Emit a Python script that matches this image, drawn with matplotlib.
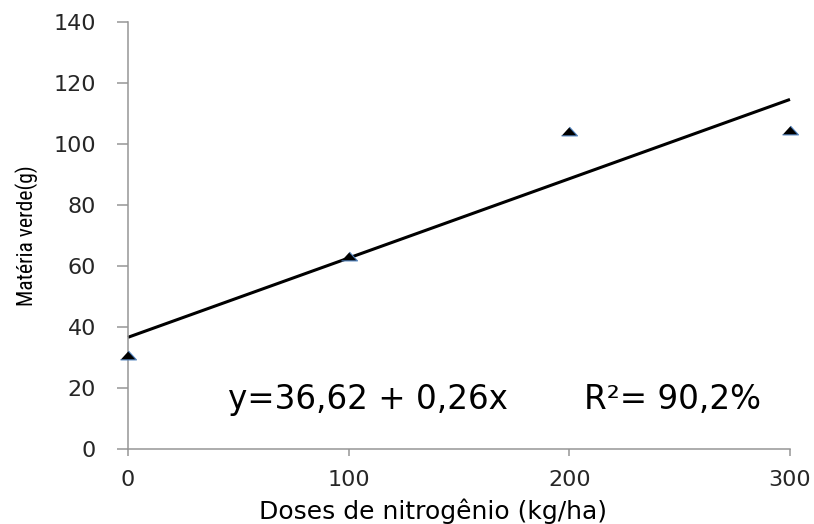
import matplotlib.pyplot as plt
import numpy as np

# -------- data --------
doses = [0, 100, 200, 300]            # kg/ha
materia_verde = [30.8, 63.3, 104.3, 104.6]  # g
intercept, slope = 36.62, 0.26        # fitted line y = a + b x
x_ticks = [0, 100, 200, 300]
y_ticks = [0, 20, 40, 60, 80, 100, 120, 140]

eq_text = "y=36,62 + 0,26x"
r2_text = "R²= 90,2%"

grey = "#969696"
dark = "#262626"
narrow = ["Roboto Condensed", "Liberation Sans Narrow", "Sofia Sans Condensed",
          "Liberation Sans"]

fig = plt.figure(figsize=(8.14, 5.24), dpi=100)
ax = fig.add_axes([0.1572, 0.1431, 0.8133, 0.8149])

# -------- fitted line --------
x_line = np.array([doses[0], doses[-1]])
ax.plot(x_line, intercept + slope * x_line, color="black", lw=2.2,
        solid_capstyle="butt", clip_on=False, zorder=2)

# -------- observed points (flat triangles) --------
tri = [(-1, -0.55), (1, -0.55), (0, 0.55)]
ax.plot(doses, materia_verde, ls="none", marker=tri, ms=11.5,
        mfc="black", mec="#4F81BD", mew=0.8, clip_on=False, zorder=3)

# -------- axes styling --------
ax.set_xlim(0, 300)
ax.set_ylim(0, 140)
ax.set_xticks(x_ticks)
ax.set_yticks(y_ticks)

for side in ("top", "right"):
    ax.spines[side].set_visible(False)
for side in ("left", "bottom"):
    ax.spines[side].set_color(grey)
    ax.spines[side].set_linewidth(1.1)

ax.tick_params(axis="y", direction="out", length=8, width=1.1, color=grey,
               pad=15, labelsize=16, labelcolor=dark)
ax.tick_params(axis="x", direction="out", length=5, width=1.1, color=grey,
               pad=10, labelsize=16, labelcolor=dark)

ax.set_xlabel("Doses de nitrogênio (kg/ha)", fontsize=18, color="black")
ax.xaxis.label.set_va("center")
ax.xaxis.set_label_coords(0.461, -0.145)

ax.set_ylabel("Matéria verde(g)", fontsize=15.5, color="black", family=narrow)
ax.yaxis.label.set_va("center")
ax.yaxis.set_label_coords(-0.1526, 0.5)

# -------- equation --------
ax.text(45.3, 16.2, eq_text, fontsize=23.5, ha="left", va="center", color="black")
ax.text(206.6, 16.2, r2_text, fontsize=23.5, ha="left", va="center", color="black")

fig.savefig("out.png", dpi=100)
